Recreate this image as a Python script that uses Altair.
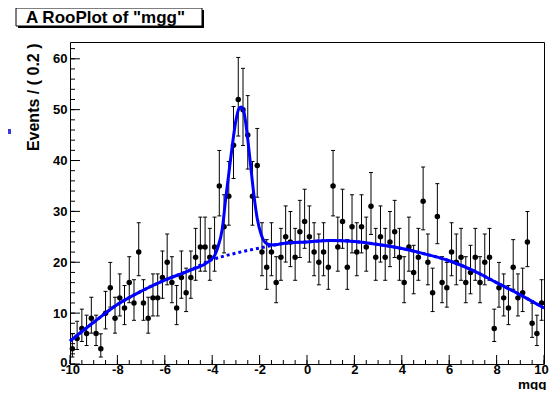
import altair as alt
import numpy as np
import pandas as pd

# ---- data ----
counts = [3, 5, 7, 6, 9, 6, 3, 10, 15, 9,
          13, 11, 16, 12, 22, 12, 9, 13, 13, 17,
          20, 16, 11, 17, 14, 17, 21, 23, 23, 21,
          23, 35, 27, 33, 43, 52, 50, 45, 33, 39,
          22, 19, 22, 16, 21, 25, 24, 21, 26, 28,
          25, 22, 20, 22, 19, 35, 23, 28, 19, 27,
          22, 27, 23, 31, 21, 25, 21, 24, 26, 21,
          16, 23, 18, 21, 32, 20, 14, 29, 16, 15,
          22, 20, 21, 16, 18, 21, 16, 20, 21, 7,
          15, 13, 11, 19, 13, 14, 24, 8, 6, 12]
bin_centers = np.round(np.arange(-9.9, 10.0, 0.2), 2)[:100]

bg_x = [-10, -9, -8, -7, -6, -5, -4, -3, -2, -1, 0, 1, 2, 3, 4, 5, 6, 7, 8, 9, 10]
bg_y = [4.5, 8.2, 11.7, 14.3, 16.5, 18.3, 20.5, 21.8, 22.8, 23.7, 24.0, 24.3, 24.1,
        23.5, 22.7, 21.6, 20.3, 18.4, 16.0, 13.6, 11.0]

tot_x = [-10, -9, -8, -7, -6, -5, -4.06, -3.9, -3.78, -3.57, -3.43, -3.29, -3.15,
         -3.01, -2.87, -2.77, -2.66, -2.52, -2.38, -2.24, -2.10, -1.93, -1.68, -1.4,
         -1, 0, 1, 2, 3, 4, 5, 6, 7, 8, 9, 10]
tot_y = [4.5, 8.2, 11.7, 14.3, 16.5, 18.3, 20.5, 21.3, 22.7, 26.7, 32.5, 37.8, 43.0,
         47.6, 50.2, 50.5, 49.5, 45.0, 39.1, 33.2, 28.6, 25.4, 23.6, 23.4,
         23.7, 24.0, 24.3, 24.1, 23.5, 22.7, 21.6, 20.3, 18.4, 16.0, 13.6, 11.0]

x_major = [-10, -8, -6, -4, -2, 0, 2, 4, 6, 8, 10]
x_minor = [v / 2 for v in range(-20, 21)]
y_major = [0, 10, 20, 30, 40, 50, 60]
y_minor = list(range(0, 64, 2))

title_text = 'A RooPlot of "mgg"'
y_title = "Events / ( 0.2 )"
x_title = "mgg"

# ---- layout ----
W, H = 474, 322
XMIN, XMAX, YMIN, YMAX = -10, 10, 0, 63.3
FONT = "Liberation Sans"
BLUE = "#0000ff"

xs = alt.Scale(domain=[XMIN, XMAX], nice=False, zero=False)
ys = alt.Scale(domain=[YMIN, YMAX], nice=False, zero=False)

data = pd.DataFrame({"x": bin_centers, "n": counts})
bg = pd.DataFrame({"x": bg_x, "y": bg_y})
tot = pd.DataFrame({"x": tot_x, "y": tot_y})

base = alt.Chart(data).transform_calculate(
    hi="datum.n + 1 + sqrt(datum.n + 0.75)",
    lo="datum.n * pow(1 - 1/(9*datum.n) - 1/(3*sqrt(datum.n)), 3)",
)

xaxis = alt.Axis(values=x_major, labelExpr="'' + datum.value", ticks=False,
                 domain=False, grid=False,
                 labelFont=FONT, labelFontSize=13, labelFontWeight="bold",
                 labelColor="black", labelPadding=-1, labelFlush=False,
                 labelOffset={"condition": {"test": "datum.value == 10", "value": -3},
                              "value": 0},
                 title=x_title, titleFont=FONT, titleFontSize=13.5,
                 titleFontWeight="bold", titleColor="black", titleAnchor="end",
                 titleAlign="right", titleX=W + 2, titleY=24, titleBaseline="alphabetic")
yaxis = alt.Axis(values=y_major, labelExpr="'' + datum.value", ticks=False,
                 domain=False, grid=False,
                 labelFont=FONT, labelFontSize=13, labelFontWeight="bold",
                 labelColor="black", labelPadding=3, labelFlush=False,
                 labelOffset={"condition": {"test": "datum.value == 0", "value": -2},
                              "value": 0},
                 title=y_title, titleFont=FONT, titleFontSize=16,
                 titleFontWeight="bold", titleColor="black", titleAngle=270,
                 titleAlign="right", titleBaseline="middle", titleX=-37, titleY=1)

err = base.mark_rule(color="black", strokeWidth=1).encode(
    x=alt.X("x:Q", scale=xs, axis=xaxis),
    y=alt.Y("lo:Q", scale=ys, axis=yaxis),
    y2="hi:Q",
)
cap_hi = base.mark_rule(color="black", strokeWidth=1, xOffset=-2, x2Offset=2).encode(
    x=alt.X("x:Q", scale=xs), x2="x:Q", y=alt.Y("hi:Q", scale=ys))
cap_lo = base.mark_rule(color="black", strokeWidth=1, xOffset=-2, x2Offset=2).encode(
    x=alt.X("x:Q", scale=xs), x2="x:Q", y=alt.Y("lo:Q", scale=ys))
pts = alt.Chart(data).mark_circle(size=30, color="black", opacity=1).encode(
    x=alt.X("x:Q", scale=xs), y=alt.Y("n:Q", scale=ys))

bg_line = alt.Chart(bg).mark_line(color=BLUE, strokeWidth=3, strokeDash=[3, 3],
                                  interpolate="monotone").encode(
    x=alt.X("x:Q", scale=xs), y=alt.Y("y:Q", scale=ys))
tot_line = alt.Chart(tot).mark_line(color=BLUE, strokeWidth=3,
                                    interpolate="monotone").encode(
    x=alt.X("x:Q", scale=xs), y=alt.Y("y:Q", scale=ys))

# inward ticks
xmaj = alt.Chart(pd.DataFrame({"v": x_major})).mark_rule(color="black").encode(
    x=alt.X("v:Q", scale=xs), y=alt.value(H), y2=alt.value(H - 9))
xmin_ = alt.Chart(pd.DataFrame({"v": x_minor})).mark_rule(color="black").encode(
    x=alt.X("v:Q", scale=xs), y=alt.value(H), y2=alt.value(H - 4))
ymaj = alt.Chart(pd.DataFrame({"v": y_major})).mark_rule(color="black").encode(
    y=alt.Y("v:Q", scale=ys), x=alt.value(0), x2=alt.value(10))
ymin_ = alt.Chart(pd.DataFrame({"v": y_minor})).mark_rule(color="black").encode(
    y=alt.Y("v:Q", scale=ys), x=alt.value(0), x2=alt.value(5))

one = pd.DataFrame({"t": [title_text]})
shadow = alt.Chart(one).mark_rect(color="black").encode(
    x=alt.value(-52), x2=alt.value(134), y=alt.value(-32), y2=alt.value(-14))
box = alt.Chart(one).mark_rect(fill="white", stroke="black", strokeWidth=1).encode(
    x=alt.value(-54), x2=alt.value(132), y=alt.value(-34), y2=alt.value(-16))
ttl = alt.Chart(one).mark_text(font=FONT, fontSize=17, fontWeight="bold", align="left",
                               baseline="middle", color="black").encode(
    x=alt.value(-44), y=alt.value(-24.5), text="t:N")
stray = alt.Chart(one).mark_rect(color="#3b3bd9").encode(
    x=alt.value(-62), x2=alt.value(-59), y=alt.value(87), y2=alt.value(92))

chart = alt.layer(err, cap_hi, cap_lo, pts, bg_line, tot_line,
                  xmaj, xmin_, ymaj, ymin_, shadow, box, ttl, stray).properties(
    width=W, height=H,
    autosize=alt.AutoSizeParams(type="none"),
    padding={"left": 62, "top": 34, "right": 6, "bottom": 26},
    background="white",
).configure_view(stroke="black", strokeWidth=1)

chart.save("out.html", embed_options={"renderer": "svg", "actions": False})
